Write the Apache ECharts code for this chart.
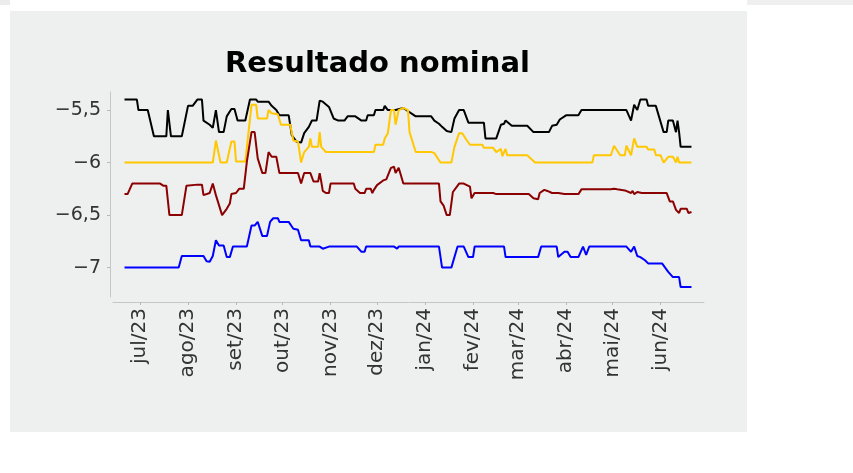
<!DOCTYPE html>
<html><head><meta charset="utf-8">
<script src="https://cdn.jsdelivr.net/npm/echarts@6/dist/echarts.min.js"></script>
<style>
html,body{margin:0;padding:0;background:#ffffff;}
#wrap{position:relative;width:853px;height:473px;}
#panel{position:absolute;left:10px;top:11px;width:737px;height:421px;background:#eeefef;}
#s1{position:absolute;left:0;top:0;width:10px;height:5px;background:#ececec;}
#s2{position:absolute;left:747px;top:0;width:106px;height:5px;background:#efefef;}
#c{position:absolute;left:0;top:0;width:853px;height:473px;}
</style>
</head><body>
<div id="wrap"><div id="s1"></div><div id="s2"></div><div id="panel"></div><div id="c"></div></div>
<script>
const chartTitle = 'Resultado nominal';
const monthTicks = ['2023-07-01','2023-08-01','2023-09-01','2023-10-01','2023-11-01','2023-12-01','2024-01-01','2024-02-01','2024-03-01','2024-04-01','2024-05-01','2024-06-01'];
const monthNames = ['jan','fev','mar','abr','mai','jun','jul','ago','set','out','nov','dez'];
const yTicks = [-7, -6.5, -6, -5.5];
const xRange = ['2023-06-13T14:00:00', '2024-06-29T02:00:00'];
const yRange = [-7.28, -5.328];

const serieBlack = [
['2023-06-21',-5.40],['2023-06-29',-5.40],['2023-06-30',-5.50],['2023-07-06',-5.50],['2023-07-10',-5.75],['2023-07-18',-5.75],['2023-07-19',-5.50],['2023-07-21',-5.75],['2023-07-28',-5.75],
['2023-08-01',-5.46],['2023-08-04',-5.46],['2023-08-07',-5.40],['2023-08-10',-5.40],['2023-08-11',-5.60],['2023-08-15',-5.64],['2023-08-17',-5.67],['2023-08-19',-5.50],['2023-08-21',-5.71],['2023-08-24',-5.71],['2023-08-26',-5.56],['2023-08-29',-5.49],['2023-08-31',-5.49],
['2023-09-02',-5.60],['2023-09-07',-5.60],['2023-09-10',-5.40],['2023-09-14',-5.40],['2023-09-15',-5.42],['2023-09-22',-5.42],['2023-09-24',-5.46],['2023-09-27',-5.50],['2023-09-29',-5.55],
['2023-10-05',-5.55],['2023-10-07',-5.74],['2023-10-10',-5.80],['2023-10-13',-5.81],['2023-10-15',-5.72],['2023-10-18',-5.66],['2023-10-20',-5.60],['2023-10-23',-5.60],['2023-10-25',-5.41],['2023-10-27',-5.42],['2023-10-31',-5.47],
['2023-11-03',-5.58],['2023-11-06',-5.60],['2023-11-10',-5.60],['2023-11-12',-5.56],['2023-11-17',-5.56],['2023-11-21',-5.60],['2023-11-24',-5.60],['2023-11-25',-5.55],['2023-11-29',-5.55],['2023-11-30',-5.50],
['2023-12-05',-5.50],['2023-12-06',-5.46],['2023-12-08',-5.50],['2023-12-13',-5.50],['2023-12-14',-5.49],['2023-12-18',-5.48],['2023-12-26',-5.56],
['2024-01-05',-5.56],['2024-01-07',-5.60],['2024-01-10',-5.63],['2024-01-12',-5.66],['2024-01-15',-5.70],['2024-01-18',-5.71],['2024-01-20',-5.58],['2024-01-23',-5.50],['2024-01-26',-5.50],['2024-01-29',-5.62],
['2024-02-08',-5.62],['2024-02-09',-5.77],['2024-02-16',-5.77],['2024-02-19',-5.64],['2024-02-21',-5.63],['2024-02-22',-5.60],['2024-02-23',-5.60],['2024-02-26',-5.65],
['2024-03-07',-5.65],['2024-03-11',-5.71],['2024-03-21',-5.71],['2024-03-23',-5.65],['2024-03-26',-5.64],['2024-03-28',-5.59],
['2024-04-01',-5.55],['2024-04-09',-5.55],['2024-04-11',-5.50],
['2024-05-10',-5.50],['2024-05-13',-5.60],['2024-05-15',-5.45],['2024-05-17',-5.50],['2024-05-19',-5.40],['2024-05-23',-5.40],['2024-05-24',-5.46],['2024-05-29',-5.46],
['2024-06-01',-5.61],['2024-06-03',-5.71],['2024-06-05',-5.71],['2024-06-06',-5.60],['2024-06-09',-5.60],['2024-06-11',-5.71],['2024-06-12',-5.60],['2024-06-13',-5.71],['2024-06-14',-5.85],['2024-06-21',-5.85]
];

const serieYellow = [
['2023-06-21',-6.00],['2023-08-17',-6.00],['2023-08-19',-5.79],['2023-08-22',-6.00],['2023-08-26',-6.00],['2023-08-29',-5.80],['2023-08-31',-5.80],
['2023-09-01',-5.99],['2023-09-07',-5.99],['2023-09-11',-5.45],['2023-09-14',-5.45],['2023-09-15',-5.58],['2023-09-21',-5.58],['2023-09-22',-5.50],['2023-09-24',-5.53],['2023-09-28',-5.54],['2023-09-30',-5.64],
['2023-10-06',-5.64],['2023-10-08',-5.79],['2023-10-11',-5.80],['2023-10-13',-6.00],['2023-10-15',-5.90],['2023-10-18',-5.85],['2023-10-19',-5.77],['2023-10-20',-5.85],['2023-10-24',-5.85],['2023-10-25',-5.71],['2023-10-26',-5.85],['2023-10-29',-5.90],
['2023-11-29',-5.90],['2023-11-30',-5.83],['2023-12-05',-5.83],['2023-12-06',-5.77],['2023-12-08',-5.72],['2023-12-10',-5.50],['2023-12-12',-5.50],['2023-12-13',-5.64],['2023-12-15',-5.50],['2023-12-18',-5.48],['2023-12-21',-5.50],['2023-12-22',-5.71],['2023-12-26',-5.90],
['2024-01-05',-5.90],['2024-01-07',-5.91],['2024-01-11',-6.00],['2024-01-18',-6.00],['2024-01-20',-5.85],['2024-01-23',-5.72],['2024-01-25',-5.72],['2024-01-28',-5.79],['2024-01-30',-5.83],
['2024-02-07',-5.83],['2024-02-08',-5.86],['2024-02-14',-5.86],['2024-02-16',-5.90],['2024-02-19',-5.87],['2024-02-20',-5.94],['2024-02-21',-5.90],['2024-02-22',-5.87],['2024-02-23',-5.93],['2024-02-25',-5.93],
['2024-03-07',-5.93],['2024-03-12',-6.00],['2024-04-18',-6.00],['2024-04-19',-5.93],['2024-04-30',-5.93],
['2024-05-02',-5.84],['2024-05-06',-5.93],['2024-05-09',-5.93],['2024-05-10',-5.84],['2024-05-13',-5.93],['2024-05-15',-5.77],['2024-05-17',-5.85],['2024-05-23',-5.85],['2024-05-24',-5.875],['2024-05-28',-5.875],['2024-05-29',-5.93],
['2024-06-01',-5.93],['2024-06-03',-6.00],['2024-06-06',-5.945],['2024-06-09',-5.945],['2024-06-11',-6.00],['2024-06-12',-5.945],['2024-06-13',-6.00],['2024-06-21',-6.00]
];

const serieRed = [
['2023-06-21',-6.30],['2023-06-23',-6.30],['2023-06-26',-6.20],['2023-07-14',-6.20],['2023-07-16',-6.22],['2023-07-18',-6.22],['2023-07-20',-6.50],['2023-07-28',-6.50],['2023-07-31',-6.22],
['2023-08-07',-6.21],['2023-08-10',-6.21],['2023-08-11',-6.31],['2023-08-15',-6.29],['2023-08-17',-6.20],['2023-08-19',-6.31],['2023-08-23',-6.50],['2023-08-24',-6.50],['2023-08-26',-6.44],['2023-08-28',-6.39],['2023-08-29',-6.30],
['2023-09-01',-6.29],['2023-09-03',-6.25],['2023-09-06',-6.25],['2023-09-08',-5.99],['2023-09-11',-5.71],['2023-09-13',-5.71],['2023-09-15',-5.96],['2023-09-18',-6.10],['2023-09-20',-6.10],['2023-09-22',-5.90],['2023-09-24',-5.945],['2023-09-27',-5.945],['2023-09-29',-6.10],
['2023-10-11',-6.10],['2023-10-13',-6.20],['2023-10-15',-6.10],['2023-10-19',-6.10],['2023-10-21',-6.18],['2023-10-24',-6.18],['2023-10-25',-6.10],['2023-10-26',-6.18],['2023-10-27',-6.27],['2023-10-29',-6.29],['2023-10-31',-6.29],
['2023-11-01',-6.20],['2023-11-16',-6.20],['2023-11-17',-6.25],['2023-11-20',-6.29],['2023-11-23',-6.29],['2023-11-24',-6.25],['2023-11-27',-6.25],['2023-11-28',-6.29],['2023-11-29',-6.26],
['2023-12-01',-6.215],['2023-12-05',-6.17],['2023-12-07',-6.16],['2023-12-10',-6.05],['2023-12-12',-6.04],['2023-12-13',-6.10],['2023-12-15',-6.05],['2023-12-18',-6.20],
['2024-01-10',-6.20],['2024-01-11',-6.37],['2024-01-13',-6.41],['2024-01-15',-6.50],['2024-01-17',-6.50],['2024-01-19',-6.28],['2024-01-23',-6.20],['2024-01-26',-6.20],['2024-01-30',-6.23],['2024-01-31',-6.34],
['2024-02-01',-6.34],['2024-02-02',-6.29],['2024-02-14',-6.29],['2024-02-16',-6.30],
['2024-03-08',-6.30],['2024-03-11',-6.34],['2024-03-14',-6.35],['2024-03-15',-6.29],['2024-03-18',-6.26],['2024-03-20',-6.27],['2024-03-23',-6.29],['2024-03-27',-6.29],['2024-03-31',-6.30],
['2024-04-09',-6.30],['2024-04-11',-6.255],['2024-04-30',-6.255],
['2024-05-02',-6.25],['2024-05-04',-6.255],['2024-05-09',-6.265],['2024-05-13',-6.29],['2024-05-14',-6.27],['2024-05-15',-6.30],['2024-05-17',-6.28],['2024-05-20',-6.29],
['2024-06-05',-6.29],['2024-06-07',-6.37],['2024-06-09',-6.37],['2024-06-11',-6.45],['2024-06-13',-6.48],['2024-06-14',-6.44],['2024-06-18',-6.44],['2024-06-19',-6.48],['2024-06-21',-6.47]
];

const serieBlue = [
['2023-06-21',-7.00],['2023-07-26',-7.00],['2023-07-28',-6.89],
['2023-08-11',-6.89],['2023-08-13',-6.94],['2023-08-15',-6.945],['2023-08-17',-6.89],['2023-08-19',-6.74],['2023-08-21',-6.79],['2023-08-24',-6.79],['2023-08-26',-6.90],['2023-08-28',-6.90],['2023-08-30',-6.80],
['2023-09-08',-6.80],['2023-09-11',-6.60],['2023-09-13',-6.60],['2023-09-15',-6.565],['2023-09-18',-6.70],['2023-09-21',-6.70],['2023-09-23',-6.565],['2023-09-25',-6.53],['2023-09-28',-6.53],['2023-09-29',-6.565],
['2023-10-05',-6.565],['2023-10-08',-6.63],['2023-10-11',-6.64],['2023-10-13',-6.74],['2023-10-18',-6.74],['2023-10-19',-6.80],['2023-10-25',-6.80],['2023-10-27',-6.82],['2023-10-31',-6.80],
['2023-11-18',-6.80],['2023-11-21',-6.85],['2023-11-23',-6.85],['2023-11-24',-6.80],
['2023-12-12',-6.80],['2023-12-14',-6.82],['2023-12-15',-6.80],
['2024-01-10',-6.80],['2024-01-12',-7.00],['2024-01-18',-7.00],['2024-01-22',-6.80],['2024-01-26',-6.80],['2024-01-29',-6.90],
['2024-02-01',-6.90],['2024-02-02',-6.80],['2024-02-21',-6.80],['2024-02-22',-6.90],
['2024-03-14',-6.90],['2024-03-16',-6.80],['2024-03-26',-6.80],['2024-03-27',-6.90],['2024-03-31',-6.85],
['2024-04-02',-6.85],['2024-04-04',-6.90],['2024-04-09',-6.90],['2024-04-12',-6.80],['2024-04-14',-6.88],['2024-04-16',-6.80],
['2024-05-10',-6.80],['2024-05-13',-6.85],['2024-05-15',-6.80],['2024-05-17',-6.89],['2024-05-19',-6.90],['2024-05-22',-6.93],['2024-05-24',-6.96],
['2024-06-02',-6.96],['2024-06-04',-7.00],['2024-06-06',-7.04],['2024-06-09',-7.09],['2024-06-13',-7.09],['2024-06-14',-7.185],['2024-06-21',-7.185]
];

function ts(s) {
  const p = s.split('T');
  const d = p[0].split('-').map(Number);
  let h = 0, mi = 0;
  if (p[1]) { const t = p[1].split(':').map(Number); h = t[0]; mi = t[1]; }
  return new Date(d[0], d[1] - 1, d[2], h, mi).getTime();
}
function conv(arr) { return arr.map(function (r) { return [ts(r[0]), r[1]]; }); }

const FONT = '"DejaVu Sans", sans-serif';
const axisGrey = '#c6c6c6';
const tickVals = monthTicks.map(ts);

const chart = echarts.init(document.getElementById('c'), null, { renderer: 'canvas' });
chart.setOption({
  animation: false,
  backgroundColor: 'transparent',
  title: {
    text: chartTitle,
    left: 225, top: 50,
    padding: 0,
    textStyle: { fontFamily: FONT, fontSize: 29, fontWeight: 'bold', color: '#000' }
  },
  grid: { left: 113, right: 149, top: 92, bottom: 176, containLabel: false },
  xAxis: {
    type: 'value',
    min: ts(xRange[0]), max: ts(xRange[1]),
    offset: 5,
    axisLine: { show: true, lineStyle: { color: axisGrey, width: 1 } },
    axisTick: { show: true, length: 3, lineStyle: { color: '#b8b8b8' }, customValues: tickVals },
    axisLabel: {
      customValues: tickVals,
      rotate: 90, margin: 6,
      fontFamily: FONT, fontSize: 20, color: '#333',
      formatter: function (v) {
        const d = new Date(v);
        return monthNames[d.getMonth()] + '/' + String(d.getFullYear()).slice(2);
      }
    },
    splitLine: { show: false }
  },
  yAxis: {
    type: 'value',
    min: yRange[0], max: yRange[1],
    offset: 3,
    axisLine: { show: true, lineStyle: { color: axisGrey, width: 1 } },
    axisTick: { show: true, length: 3, lineStyle: { color: '#b8b8b8' }, customValues: yTicks },
    axisLabel: {
      customValues: yTicks,
      margin: 9,
      fontFamily: FONT, fontSize: 19, color: '#333',
      formatter: function (v) { return String(v).replace('.', ',').replace('-', '\u2212'); }
    },
    splitLine: { show: false }
  },
  series: [
    { name: 'A', type: 'line', data: conv(serieBlack), showSymbol: false, lineStyle: { color: '#000000', width: 2 }, itemStyle: { color: '#000000' } },
    { name: 'B', type: 'line', data: conv(serieYellow), showSymbol: false, lineStyle: { color: '#ffc800', width: 2 }, itemStyle: { color: '#ffc800' } },
    { name: 'C', type: 'line', data: conv(serieRed), showSymbol: false, lineStyle: { color: '#8b0000', width: 2 }, itemStyle: { color: '#8b0000' } },
    { name: 'D', type: 'line', data: conv(serieBlue), showSymbol: false, lineStyle: { color: '#0000ff', width: 2 }, itemStyle: { color: '#0000ff' } }
  ]
});
</script>
</body></html>
